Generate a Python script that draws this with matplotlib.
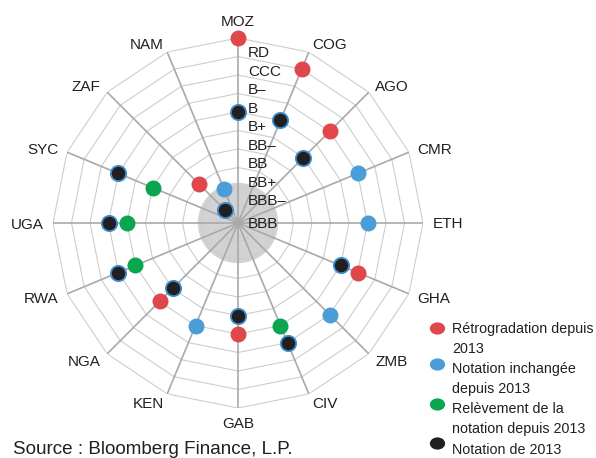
import matplotlib
matplotlib.use("Agg")
import matplotlib.pyplot as plt
import numpy as np
from matplotlib.lines import Line2D
from matplotlib.path import Path
from matplotlib.transforms import Affine2D, offset_copy

# spokes clockwise from the top
countries = ["MOZ", "COG", "AGO", "CMR", "ETH", "GHA", "ZMB", "CIV",
             "GAB", "KEN", "NGA", "RWA", "UGA", "SYC", "ZAF", "NAM"]
# ring index: 0 = BBB (centre) ... outer ring = 10
current = [10, 9, 7, 7, 7, 7, 7, 6, 6, 6, 6, 6, 6, 5, 3, 2]
status = ["down", "down", "down", "same", "same", "down", "same", "up",
          "down", "same", "down", "up", "up", "up", "down", "same"]
nan = np.nan
rating_2013 = [6, 6, 5, nan, nan, 6, nan, 7, 5, nan, 5, 7, 7, 7, 1, nan]
levels = ["BBB", "BBB–", "BB+", "BB", "BB–", "B+", "B", "B–", "CCC", "RD"]

legend_keys = ["down", "same", "up", "2013"]
legend_labels = ["Rétrogradation depuis\n2013", "Notation inchangée\ndepuis 2013",
                 "Relèvement de la\nnotation depuis 2013", "Notation de 2013"]

colors = {"down": "#e0474c", "same": "#4a9dd6", "up": "#0aa54f", "2013": "#231f20"}
EDGE = "#3b8fcf"
TXT = "#231f20"
plt.rcParams["font.family"] = ["Liberation Sans", "DejaVu Sans"]
LAB_FS = 11
LEG_FS = 10.3

W, H = 596, 458
fig = plt.figure(figsize=(W / 100, H / 100), dpi=100)
ax = fig.add_axes([53 / W, 50 / H, 370 / W, 370 / H], projection="polar")
ax.set_theta_zero_location("N")
ax.set_theta_direction(-1)
ax.set_ylim(0, 10)
ax.axis("off")

n = len(countries)
theta = np.arange(n) * 2 * np.pi / n

# grey disc in the middle
t = np.linspace(0, 2 * np.pi, 200)
ax.fill(t, np.full_like(t, 2.17), color="#d1d2d4", lw=0, zorder=1)

# polygon rings and spokes
closed = np.append(theta, theta[0])
for k in range(1, 11):
    ax.plot(closed, np.full(n + 1, k), color="#cdcdcd", lw=0.8, zorder=2)
for th in theta:
    ax.plot([th, th], [0, 10], color="#a9a9a9", lw=1.2, zorder=3)

cur = np.array(current, dtype=float)
st = np.array(status)
for key in ["down", "same", "up"]:
    m = st == key
    ax.plot(theta[m], cur[m], "o", ls="none", ms=11.5, color=colors[key],
            mec="none", clip_on=False, zorder=5)
ax.plot(theta, rating_2013, "o", ls="none", ms=11, mfc=colors["2013"], mec=EDGE,
        mew=1.3, clip_on=False, zorder=6)

# rating labels along the top spoke
trans = offset_copy(ax.transData, fig=fig, x=10, y=0, units="dots")
for i, lab in enumerate(levels):
    r = i + 0.27 if i else 0
    ax.text(0, r, lab, transform=trans, ha="left", va="center_baseline",
            fontsize=LAB_FS, color=TXT, zorder=7)

# country labels
for th, name in zip(theta, countries):
    deg = np.degrees(th)
    if np.isclose(deg, 0):
        ha, va = "center", "bottom"
    elif np.isclose(deg, 180):
        ha, va = "center", "top"
    elif deg < 180:
        ha, va = "left", "center_baseline"
    else:
        ha, va = "right", "center_baseline"
    ax.text(th, 10.5, name, ha=ha, va=va, fontsize=LAB_FS, color=TXT)

# legend drawn by hand: marker next to first line of each entry
ell = Path.unit_circle().transformed(Affine2D().scale(1.25, 1.0))
line_y0, line_step = 327, 20.2
marker_y = [328, 364, 404, 443]
row = 0
for key, lab, my in zip(legend_keys, legend_labels, marker_y):
    fig.add_artist(Line2D([437 / W], [1 - my / H], transform=fig.transFigure,
                          marker=ell, ms=11, ls="none", mfc=colors[key], mec="none"))
    for line in lab.split("\n"):
        y = line_y0 + row * line_step
        fig.text(452 / W, 1 - y / H, line, ha="left", va="center_baseline",
                 fontsize=LEG_FS, color=TXT)
        row += 1

fig.text(13 / W, 1 - 447 / H, "Source : Bloomberg Finance, L.P.", ha="left",
         va="center_baseline", fontsize=13.6, color=TXT)

fig.savefig("out.png", dpi=100)
